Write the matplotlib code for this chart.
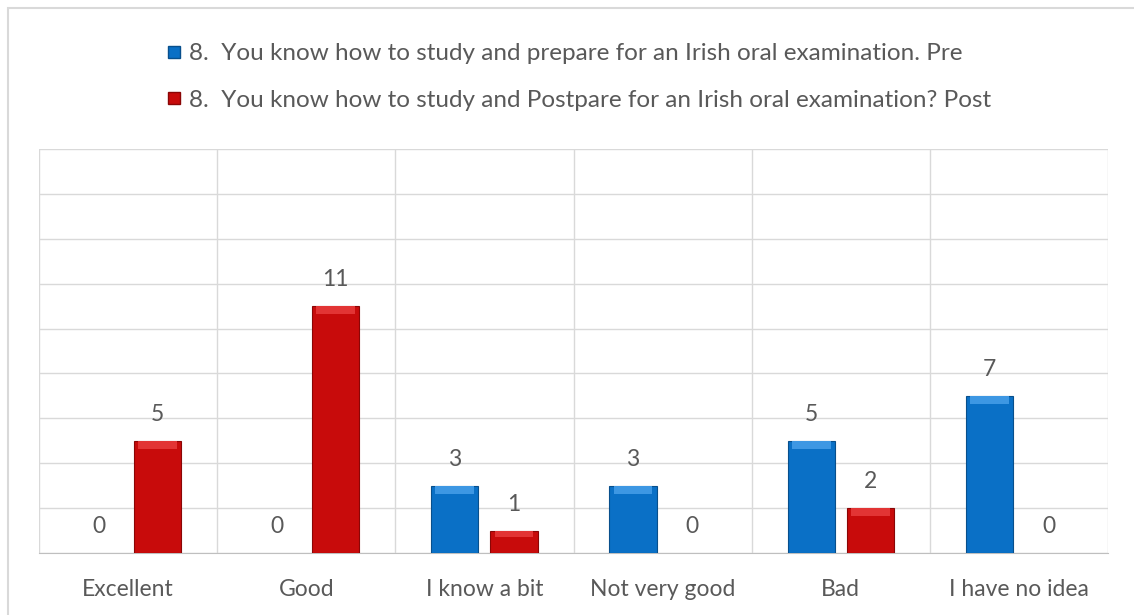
import matplotlib.pyplot as plt
import numpy as np
from matplotlib.patches import Rectangle
from matplotlib.lines import Line2D

categories = ["Excellent", "Good", "I know a bit", "Not very good", "Bad", "I have no idea"]
pre = [0, 0, 3, 3, 5, 7]
post = [5, 11, 1, 0, 2, 0]
pre_label = "8.  You know how to study and prepare for an Irish oral examination. Pre"
post_label = "8.  You know how to study and Postpare for an Irish oral examination? Post"

plt.rcParams['font.family'] = ['Lato', 'DejaVu Sans']

blue = "#0a70c6"
red = "#c80b0b"
text_col = "#595959"
grid_col = "#d9d9d9"
fs = 16.5

fig = plt.figure(figsize=(11.34, 6.15), dpi=100)
ax = fig.add_axes([39 / 1134, 1 - 553 / 615, (1108 - 39) / 1134, (553 - 149) / 615])

x = np.arange(len(categories))
w = 0.265
off = 0.166
b1 = ax.bar(x - off, pre, w, color=blue, edgecolor="#084f8c", linewidth=0.8, zorder=3)
b2 = ax.bar(x + off, post, w, color=red, edgecolor="#8a0606", linewidth=0.8, zorder=3)

# a lighter band on top of each bar for the bevelled look
for bars, light in ((b1, "#3d97e3"), (b2, "#e23434")):
    for r in bars:
        h = r.get_height()
        if h == 0:
            r.set_linewidth(0)
            continue
        band = min(0.35, h * 0.3)
        ax.bar(r.get_x() + r.get_width() / 2, band, r.get_width() * 0.82,
               bottom=h - band, color=light, linewidth=0, zorder=4)

for bars in (b1, b2):
    for r in bars:
        ax.annotate(str(int(r.get_height())), (r.get_x() + r.get_width() / 2, r.get_height()),
                    xytext=(0, 19), textcoords="offset points", ha="center", va="center",
                    fontsize=fs, color=text_col)

ax.set_xlim(-0.5, len(categories) - 0.5)
ax.set_ylim(0, 18)
ax.set_yticks(np.arange(0, 19, 2))
ax.set_xticks(np.arange(-0.5, len(categories), 1), minor=True)
ax.set_xticks(x)
ax.set_xticklabels(categories, fontsize=fs, color=text_col)
ax.tick_params(axis="x", which="both", length=0, pad=19)
ax.tick_params(axis="y", length=0, labelleft=False)
ax.grid(axis="y", color=grid_col, linewidth=1, zorder=0)
ax.grid(axis="x", which="minor", color=grid_col, linewidth=1, zorder=0)
for s in ("left", "right", "top"):
    ax.spines[s].set_visible(False)
ax.spines["bottom"].set_color("#bfbfbf")

handles = [Line2D([], [], marker="s", linestyle="", markersize=9, color=blue, markeredgecolor="#084f8c"),
           Line2D([], [], marker="s", linestyle="", markersize=9, color=red, markeredgecolor="#8a0606")]
leg = fig.legend(handles, [pre_label, post_label], loc="upper center", bbox_to_anchor=(0.51, 0.965),
                 frameon=False, fontsize=17.5, labelspacing=1.05, handlelength=0.65, handletextpad=0.3)
for t in leg.get_texts():
    t.set_color(text_col)

fig.patches.append(Rectangle((8 / 1134, -0.05), 1.2, 1 - 8 / 615 + 0.05, transform=fig.transFigure,
                             fill=False, edgecolor=grid_col, linewidth=1.5))

fig.savefig("out.png", dpi=100)
